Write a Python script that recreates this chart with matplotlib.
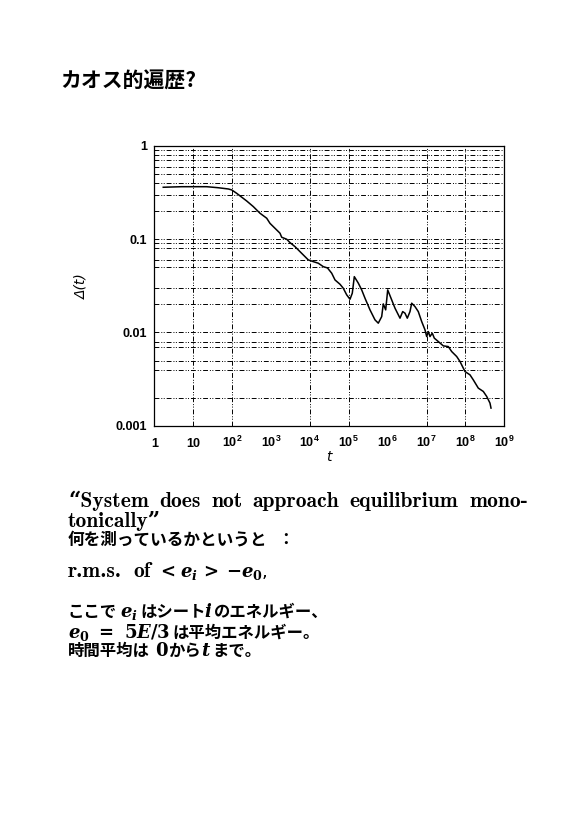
import matplotlib
matplotlib.use("Agg")
import matplotlib.pyplot as plt
from matplotlib.ticker import NullLocator

# valores: tiempo t y Delta(t)
t = [1.70, 5.07, 22.2, 43.4, 80, 97.8, 131, 238, 351, 522, 777, 944, 1270,
     1708, 1888, 2537, 3085, 4150, 5575, 7500, 9120, 12250, 16480, 22170,
     28430, 36460, 44300, 59570, 72400, 88600, 1.077e5, 1.234e5, 1.39e5,
     1.762e5, 2.153e5, 2.618e5, 3.518e5, 4.73e5, 5.75e5, 7.036e5, 7.73e5,
     8.91e5, 1.004e6, 1.271e6, 1.546e6, 2.08e6, 2.439e6, 2.794e6, 3.204e6,
     3.76e6, 4.156e6, 5.05e6, 6.14e6, 7.51e6, 9.14e6, 1.01e7, 1.112e7,
     1.228e7, 1.407e7, 1.585e7, 2.009e7, 2.70e7, 3.63e7, 4.44e7, 5.97e7,
     7.26e7, 9.75e7, 1.312e8, 1.596e8, 2.144e8, 2.884e8, 3.525e8, 4.285e8,
     4.55e8]
delta = [0.361, 0.366, 0.366, 0.357, 0.346, 0.338, 0.311, 0.257, 0.224, 0.190,
         0.168, 0.148, 0.131, 0.116, 0.105, 0.100, 0.092, 0.0833, 0.0736,
         0.0651, 0.060, 0.0575, 0.0553, 0.0508, 0.0492, 0.0432, 0.0366,
         0.0329, 0.0298, 0.0253, 0.0227, 0.0264, 0.0397, 0.0338, 0.0286,
         0.0233, 0.01747, 0.01365, 0.01258, 0.0148, 0.02025, 0.01747, 0.0286,
         0.02236, 0.01822, 0.01423, 0.01675, 0.0161, 0.01423, 0.01675, 0.0206,
         0.01895, 0.01675, 0.01309, 0.01066, 0.00904, 0.01023, 0.00904,
         0.00983, 0.00869, 0.00799, 0.00718, 0.00706, 0.00624, 0.00552,
         0.00488, 0.00381, 0.00351, 0.0031, 0.00253, 0.00233, 0.00206,
         0.001747, 0.001545]

# ejes y lineas de rejilla tal como aparecen en la imagen
xticks = [10 ** k for k in range(10)]
xlabels = ['1', '10'] + [r'$\mathregular{10^{%d}}$' % k for k in range(2, 10)]
yticks = [0.001, 0.01, 0.1, 1]
ylabels = ['0.001', '0.01', '0.1', '1']
vgrid = [10, 1e2, 1e4, 1e5, 1e7, 1e8]
hgrid = [0.2, 0.3, 0.4, 0.5, 0.6, 0.7, 0.8, 0.9,
         0.02, 0.03, 0.05, 0.06, 0.08, 0.09, 0.1,
         0.002, 0.004, 0.005, 0.007, 0.008, 0.01]

plt.rcParams['mathtext.fontset'] = 'custom'
plt.rcParams['mathtext.rm'] = 'DejaVu Serif:bold'
plt.rcParams['mathtext.bf'] = 'DejaVu Serif:bold'
plt.rcParams['mathtext.it'] = 'DejaVu Serif:italic:bold'

W, H = 579, 819
fig = plt.figure(figsize=(W / 100, H / 100), dpi=100)


def fx(px):
    return px / W


def fy(py):
    return 1 - py / H


ax = fig.add_axes([fx(154.3), fy(425.7), fx(504.3) - fx(154.3), fy(146) - fy(425.7)])
ax.set_xscale('log')
ax.set_yscale('log')
ax.set_xlim(1, 1e9)
ax.set_ylim(1e-3, 1)

dash = (0, (5, 2, 1, 1.5, 1, 2))
for v in vgrid:
    ax.axvline(v, color='black', lw=0.7, ls=dash, zorder=1)
for h in hgrid:
    ax.axhline(h, color='black', lw=0.7, ls=dash, zorder=1)

ax.plot(t, delta, color='black', lw=1.1, zorder=3)

ax.xaxis.set_minor_locator(NullLocator())
ax.yaxis.set_minor_locator(NullLocator())
ax.set_xticks(xticks)
ax.set_xticklabels(xlabels)
ax.set_yticks(yticks)
ax.set_yticklabels(ylabels)
ax.tick_params(length=0, labelsize=9)
ax.tick_params(axis='x', pad=15)
ax.tick_params(axis='y', pad=5)
for lab in ax.get_xticklabels() + ax.get_yticklabels():
    lab.set_family('Liberation Sans')
    lab.set_weight('bold')
for lab in ax.get_xticklabels():
    lab.set_verticalalignment('baseline')
for sp in ax.spines.values():
    sp.set_linewidth(0.9)

ax.set_xlabel('t', fontsize=10, style='italic', family='DejaVu Sans', labelpad=0)
ax.set_ylabel('\u0394(t)', fontsize=10, style='italic', family='DejaVu Sans', labelpad=20)

# titulo y texto de la diapositiva
jp = ['Noto Sans CJK JP', 'DejaVu Sans']
en = ['cmb10', 'DejaVu Serif']
fig.text(fx(60), fy(88), 'カオス的遍歴?', family=jp, weight='bold', size=15, va='baseline')

renderer = fig.canvas.get_renderer()

# primera linea justificada entre x=68 y x=528
words = '\u201cSystem does not approach equilibrium mono-'.split()
objs = [fig.text(0, fy(507), w, family=en, weight='bold', size=15.5, va='baseline')
        for w in words]
widths = [o.get_window_extent(renderer).width for o in objs]
gap = (528 - 68 - sum(widths)) / (len(words) - 1)
xpos = 68
for o, wd in zip(objs, widths):
    o.set_x(fx(xpos))
    xpos += wd + gap

fig.text(fx(68), fy(527), 'tonically\u201d', family=en, weight='bold', size=15.5, va='baseline')
fig.text(fx(68), fy(545), '何を測っているかというと', family=jp, weight='bold', size=12,
         va='baseline')
fig.text(fx(277), fy(545), '：', family=jp, weight='bold', size=12, va='baseline')

# lineas mezcladas: (x en pixeles, texto, tipo)
lines = [
    (577, [(68, 'r.m.s.', 'en'), (133, 'of', 'en'), (157, r'$<$', 'm'),
           (180, r'$e_i$', 'm'), (200, r'$>$', 'm'), (226, r'$-e_0$,', 'm')]),
    (617, [(68, 'ここで', 'jp'), (120, r'$e_i$', 'm'), (140, 'はシート', 'jp'),
           (204, r'$i$', 'm'), (214, 'のエネルギー、', 'jp')]),
    (638, [(68, r'$e_0\ =\ 5E/3$', 'm'), (172, 'は平均エネルギー。', 'jp')]),
    (656, [(68, '時間平均は', 'jp'), (155, r'$\mathbf{0}$', 'm'), (168, 'から', 'jp'),
           (201, r'$t$', 'm'), (212, 'まで。', 'jp')]),
]
for yb, parts in lines:
    for xp, s, kind in parts:
        if kind == 'jp':
            fig.text(fx(xp), fy(yb), s, family=jp, weight='bold', size=11.8, va='baseline')
        elif kind == 'en':
            fig.text(fx(xp), fy(yb), s, family=en, weight='bold', size=15.5, va='baseline')
        else:
            fig.text(fx(xp), fy(yb), s, size=13, va='baseline')

fig.savefig('out.png', dpi=100)
